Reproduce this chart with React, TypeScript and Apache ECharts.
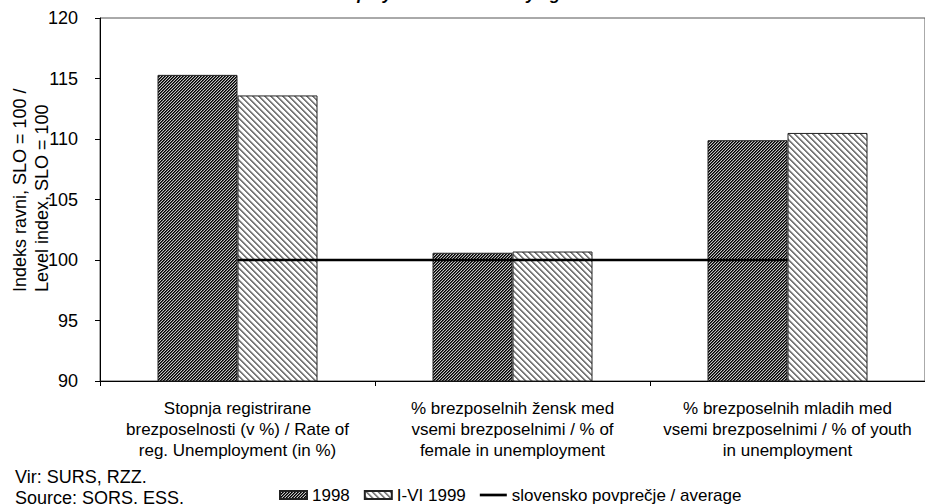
import React, { useEffect, useRef } from 'react';
import * as echarts from 'echarts';

const categories = [
  'Stopnja registrirane\nbrezposelnosti (v %) / Rate of\nreg. Unemployment (in %)',
  '% brezposelnih žensk med\nvsemi brezposelnimi / % of\nfemale in unemployment',
  '% brezposelnih mladih med\nvsemi brezposelnimi / % of youth\nin unemployment',
];
const values1998 = [115.3, 100.6, 109.9];
const values1999 = [113.6, 100.7, 110.5];
const averageValues = [100, 100, 100];
const seriesNames = ['1998', 'I-VI 1999', 'slovensko povprečje / average'];
const yMin = 90;
const yMax = 120;
const yStep = 5;
const yNameLines = ['Indeks ravni, SLO = 100 /', 'Level index, SLO = 100'];
const sourceLines = ['Vir: SURS, RZZ.', 'Source: SORS, ESS.'];
const titleText = 'Unemployment structure by age';

const FONT = 'Liberation Sans, Arial, Helvetica, sans-serif';

function makePattern(size: number, colorAt: (x: number, y: number) => string) {
  const c = document.createElement('canvas');
  c.width = size;
  c.height = size;
  const ctx = c.getContext('2d')!;
  for (let y = 0; y < size; y++) {
    for (let x = 0; x < size; x++) {
      ctx.fillStyle = colorAt(x, y);
      ctx.fillRect(x, y, 1, 1);
    }
  }
  return { image: c, repeat: 'repeat', imageWidth: size, imageHeight: size } as any;
}

export default function App() {
  const ref = useRef<HTMLDivElement>(null);

  useEffect(() => {
    if (!ref.current) return;
    const chart = echarts.init(ref.current, undefined, { renderer: 'svg' });

    const dark = ['#000000', '#444444', '#c4c4c4'];
    const pat1998 = makePattern(3, (x, y) => dark[(x + y) % 3]);
    const pat1999 = makePattern(6, (x, y) => {
      const k = (x - y + 12) % 6;
      if (k === 0 || k === 1) return '#7a7a7a';
      if (k === 2) return '#c8c8c8';
      return '#ffffff';
    });

    chart.setOption({
      animation: false,
      backgroundColor: '#ffffff',
      textStyle: { fontFamily: FONT },
      grid: {
        left: 100,
        right: -6,
        top: 18,
        bottom: 123,
        show: true,
        borderColor: '#555555',
        borderWidth: 1,
        backgroundColor: 'transparent',
      },
      legend: {
        left: 274,
        top: 481,
        itemWidth: 27,
        itemHeight: 8,
        itemGap: 14,
        symbolKeepAspect: true,
        textStyle: { color: '#000', fontSize: 17, fontFamily: FONT, lineHeight: 18 },
        data: [
          { name: seriesNames[0], icon: 'rect' },
          { name: seriesNames[1], icon: 'rect' },
          { name: seriesNames[2], icon: 'path://M0,0 L90,0 L90,9 L0,9 Z', itemStyle: { color: '#000', borderWidth: 0 } },
        ],
      },
      xAxis: {
        type: 'category',
        data: categories,
        boundaryGap: true,
        axisLine: { show: true, lineStyle: { color: '#000', width: 1 } },
        axisTick: { show: true, length: 5, lineStyle: { color: '#000' }, alignWithLabel: false },
        axisLabel: {
          interval: 0,
          color: '#000',
          fontSize: 17,
          lineHeight: 21,
          margin: 17,
          fontFamily: FONT,
          align: 'center',
        },
        splitLine: { show: false },
      },
      yAxis: {
        type: 'value',
        min: yMin,
        max: yMax,
        interval: yStep,
        axisLine: { show: true, lineStyle: { color: '#000', width: 1 } },
        axisTick: { show: true, length: 5, lineStyle: { color: '#000' } },
        axisLabel: { color: '#000', fontSize: 18, margin: 22, fontFamily: FONT },
        splitLine: { show: false },
      },
      graphic: [
        {
          type: 'text',
          x: 310,
          y: -6,
          style: {
            text: titleText,
            fill: '#000',
            font: `italic bold 17px ${FONT}`,
            textAlign: 'left',
            textVerticalAlign: 'middle',
          },
        },
        {
          type: 'text',
          x: 20,
          y: 292,
          rotation: Math.PI / 2,
          style: {
            text: yNameLines[0],
            fill: '#000',
            font: `18px ${FONT}`,
            textAlign: 'left',
            textVerticalAlign: 'middle',
          },
        },
        {
          type: 'text',
          x: 42,
          y: 292,
          rotation: Math.PI / 2,
          style: {
            text: yNameLines[1],
            fill: '#000',
            font: `18px ${FONT}`,
            textAlign: 'left',
            textVerticalAlign: 'middle',
          },
        },
        {
          type: 'text',
          x: 15,
          y: 477,
          style: {
            text: sourceLines[0],
            fill: '#000',
            font: `18px ${FONT}`,
            textAlign: 'left',
            textVerticalAlign: 'middle',
          },
        },
        {
          type: 'text',
          x: 15,
          y: 498,
          style: {
            text: sourceLines[1],
            fill: '#000',
            font: `18px ${FONT}`,
            textAlign: 'left',
            textVerticalAlign: 'middle',
          },
        },
      ],
      series: [
        {
          name: seriesNames[0],
          type: 'bar',
          data: values1998,
          barWidth: 80,
          barGap: '0%',
          itemStyle: { color: pat1998, borderColor: '#222', borderWidth: 1 },
          z: 2,
        },
        {
          name: seriesNames[1],
          type: 'bar',
          data: values1999,
          barWidth: 80,
          barGap: '0%',
          itemStyle: { color: pat1999, borderColor: '#222', borderWidth: 1 },
          z: 2,
        },
        {
          name: seriesNames[2],
          type: 'line',
          data: averageValues,
          symbol: 'none',
          lineStyle: { color: '#000', width: 2.5 },
          itemStyle: { color: '#000' },
          z: 5,
        },
      ],
    });

    return () => {
      chart.dispose();
    };
  }, []);

  return (
    <div
      ref={ref}
      style={{ position: 'absolute', left: 0, top: 0, width: 925, height: 504 }}
    />
  );
}
